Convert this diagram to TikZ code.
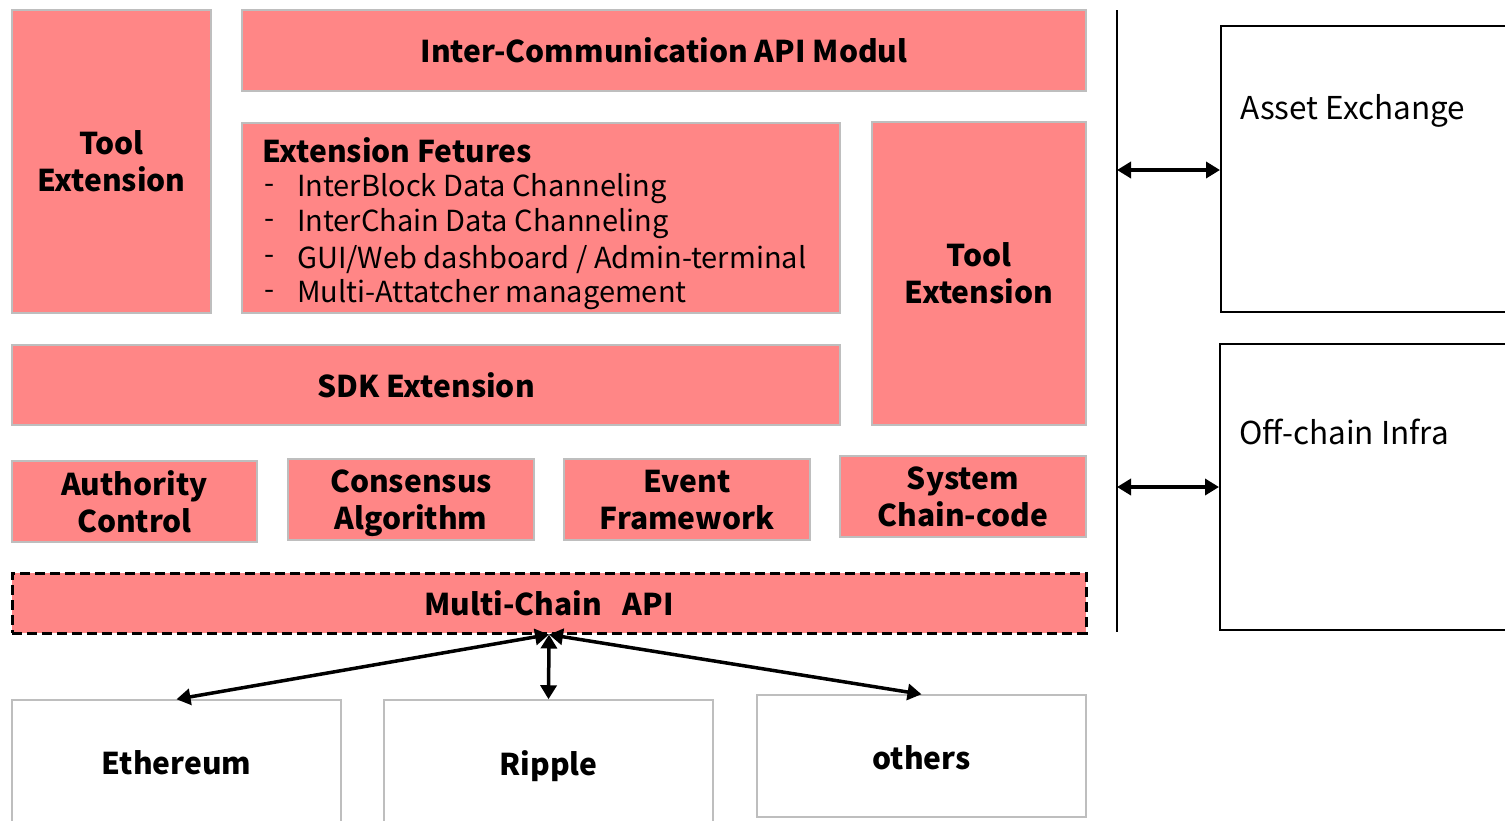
\documentclass[tikz,border=0pt]{standalone}
\usepackage{fontspec}
\setmainfont{Noto Sans CJK KR}
\usetikzlibrary{arrows.meta}
\definecolor{pinkfill}{RGB}{255,134,134}
\definecolor{edgegray}{RGB}{190,190,190}
\tikzset{
  pbox/.style={draw=edgegray, line width=1.5pt, fill=pinkfill, inner sep=0pt, align=center, text depth=0pt, font=\fontsize{30}{37}\selectfont\bfseries},
  wbox/.style={draw=edgegray, line width=1.5pt, fill=white, inner sep=0pt, align=center, text depth=0pt, font=\fontsize{30}{37}\selectfont\bfseries},
  bbox/.style={draw=black, line width=2pt, fill=white, inner sep=0pt},
  plain/.style={inner sep=0pt, font=\fontsize{29}{35}\selectfont},
  rtext/.style={inner sep=0pt, font=\fontsize{31.5}{37}\selectfont},
  arr/.style={line width=3.5pt, >={Triangle[length=14pt,width=16pt]}, <->}
}
\begin{document}
\begin{tikzpicture}[x=1pt,y=-1pt]
\clip (0,0) rectangle (1505,820);
\fill[white] (0,0) rectangle (1505,820);
% top area
\node[pbox, minimum width=199pt, minimum height=303pt] (tl) at (111.5,161.5) {Tool\\Extension};
\node[pbox, minimum width=844pt, minimum height=81pt] (ic) at (664,50.5) {Inter-Communication\ API\ Modul};
\node[pbox, minimum width=598pt, minimum height=190pt] (ef) at (541,218) {};
\node[plain, anchor=west, font=\fontsize{30}{36}\selectfont\bfseries] (eft) at (262,150) {Extension\ Fetures};
\node[plain, anchor=west] (d1) at (264,189) {-};
\node[plain, anchor=west] (e1) at (297,189) {InterBlock Data Channeling};
\node[plain, anchor=west] (d2) at (264,224) {-};
\node[plain, anchor=west] (e2) at (297,224) {InterChain Data Channeling};
\node[plain, anchor=west] (d3) at (264,260) {-};
\node[plain, anchor=west] (e3) at (297,260) {GUI/Web dashboard / Admin-terminal};
\node[plain, anchor=west] (d4) at (264,295) {-};
\node[plain, anchor=west] (e4) at (297,295) {Multi-Attatcher management};
\node[pbox, minimum width=214pt, minimum height=303pt] (tr) at (979,273.5) {Tool\\Extension};
\node[pbox, minimum width=828pt, minimum height=80pt] (sdk) at (426,385) {SDK Extension};
% module row
\node[pbox, minimum width=245pt, minimum height=81pt] (auth) at (134.5,501.5) {Authority\\Control};
\node[pbox, minimum width=246pt, minimum height=81pt] (cons) at (411,499.5) {Consensus\\Algorithm};
\node[pbox, minimum width=246pt, minimum height=81pt] (evt) at (687,499.5) {Event\\Framework};
\node[pbox, minimum width=246pt, minimum height=81pt] (sys) at (963,496.5) {System\\Chain-code};
% multi-chain
\node[pbox, draw=black, line width=3pt, dash pattern=on 10pt off 5pt, minimum width=1074pt, minimum height=60pt] (mc) at (549,603) {Multi-Chain\ \ \ API};
% chains
\node[wbox, minimum width=329pt, minimum height=140pt] (eth) at (176.5,770) {};
\node[font=\fontsize{30}{37}\selectfont\bfseries, inner sep=0pt, text depth=0pt] (etht) at (176.5,763) {Ethereum};
\node[wbox, minimum width=329pt, minimum height=140pt] (rip) at (548.5,770) {};
\node[font=\fontsize{30}{37}\selectfont\bfseries, inner sep=0pt, text depth=0pt] (ript) at (548.5,763) {Ripple};
\node[wbox, minimum width=329pt, minimum height=122pt] (oth) at (921.5,756) {};
\node[font=\fontsize{30}{37}\selectfont\bfseries, inner sep=0pt, text depth=0pt] (otht) at (921.5,758) {others};
\draw[arr] (mc.south) -- (eth.north);
\draw[arr] (mc.south) -- (rip.north);
\draw[arr] (mc.south) -- (oth.north);
% right side
\coordinate (vt) at (1117,10);
\coordinate (vb) at (1117,632);
\draw[line width=2.5pt] (vt) -- (vb);
\node[bbox, minimum width=300pt, minimum height=286pt] (ae) at (1371,169) {};
\node[rtext, anchor=west] (aet) at (1240,111) {Asset Exchange};
\node[bbox, minimum width=300pt, minimum height=286pt] (oc) at (1370,487) {};
\node[rtext, anchor=west] (oct) at (1239,432) {Off-chain Infra};
\coordinate (a1) at (1117,170);
\coordinate (a2) at (1117,487);
\draw[arr] (a1) -- (ae.west |- a1);
\draw[arr] (a2) -- (oc.west);
\end{tikzpicture}
\end{document}
